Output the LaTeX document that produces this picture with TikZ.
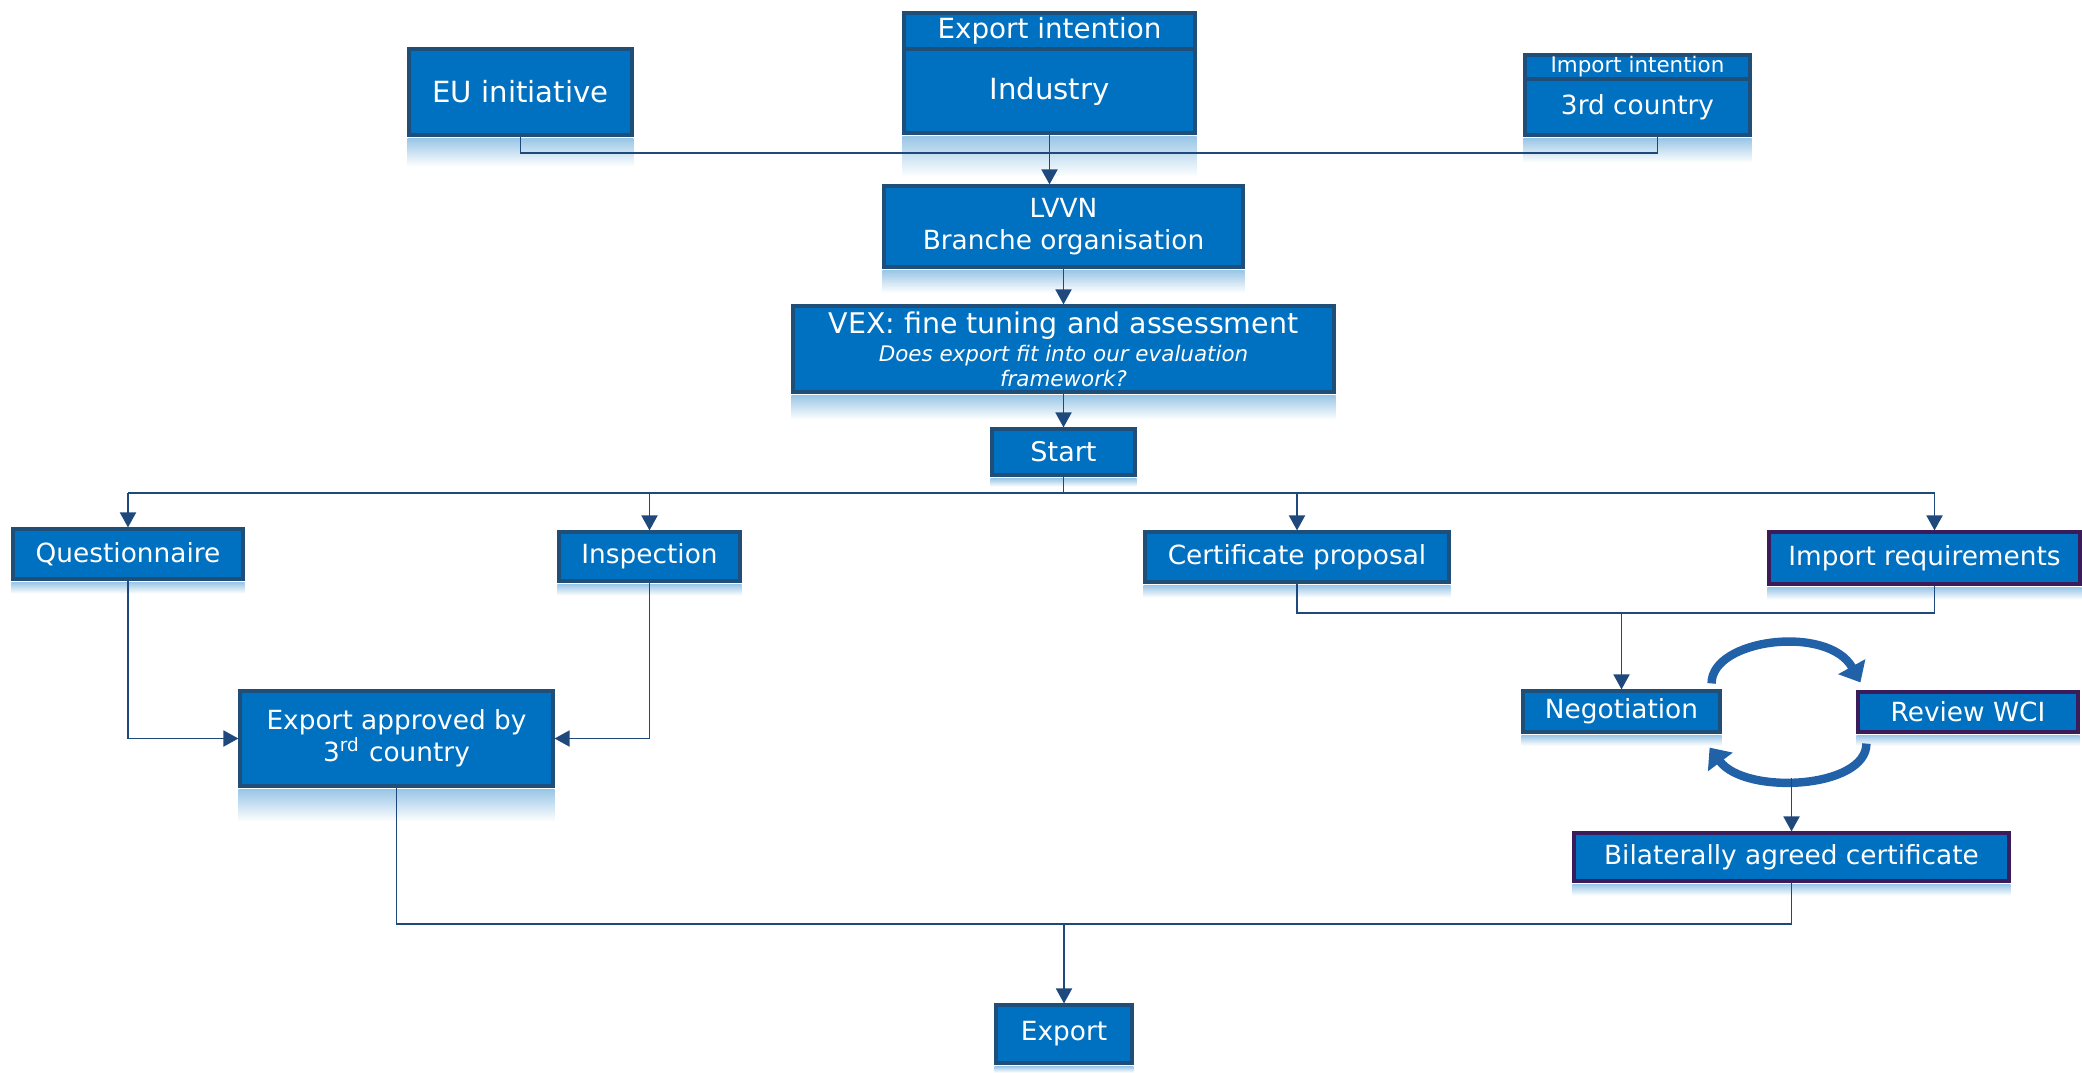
\documentclass[tikz,border=0pt]{standalone}
\usepackage{fontspec}
\setmainfont{DejaVu Sans}
\usetikzlibrary{arrows.meta,calc}
\definecolor{boxblue}{HTML}{0070C0}
\definecolor{boxline}{HTML}{1F4E79}
\definecolor{boxpurple}{HTML}{3B1C5A}
\definecolor{connblue}{HTML}{1F497D}
\definecolor{arcblue}{HTML}{2161A8}
\begin{document}
\begin{tikzpicture}[x=0.1mm,y=-0.1mm,>={Triangle[length=1.5mm,width=1.6mm]},
    box/.style={draw=boxline,line width=0.9pt,fill=boxblue,text=white,inner sep=0pt,
        align=center,font=\fontsize{7.5}{9.1}\selectfont},
    pbox/.style={box,draw=boxpurple},
    conn/.style={connblue,line width=0.55pt},
    loop/.style={arcblue,line width=2.4pt,-{Triangle[length=1.8mm,width=3mm]}}]
    \useasboundingbox (0,0) rectangle (2082,1072);
    % boxes
    \node[box,minimum width=22.3mm,minimum height=8.6mm,font=\fontsize{8.3}{10}\selectfont]
        (eu) at (520.5,92) {EU initiative};
    \node[box,minimum width=29.1mm,minimum height=3.6mm,font=\fontsize{7.9}{9}\selectfont]
        (exphead) at (1049.5,31) {Export intention};
    \node[box,minimum width=29.1mm,minimum height=8.4mm,font=\fontsize{8.3}{10}\selectfont]
        (ind) at (1049.5,91) {Industry};
    \node[box,minimum width=22.5mm,minimum height=2.4mm,font=\fontsize{6.1}{7}\selectfont]
        (imphead) at (1637.5,67) {Import intention};
    \node[box,minimum width=22.5mm,minimum height=5.6mm] (third) at (1637.5,107) {3rd country};
    \node[box,minimum width=35.9mm,minimum height=8.1mm] (lvvn) at (1063.5,226.5)
        {LVVN\\Branche organisation};
    \node[box,minimum width=54.1mm,minimum height=8.6mm,font=\fontsize{6.1}{6.9}\selectfont]
        (vex) at (1063.5,349) {{\fontsize{8.1}{9}\selectfont VEX: fine tuning and assessment}\\[1.2pt]
        \itshape Does export fit into our evaluation\\\itshape framework?};
    \node[box,minimum width=14.3mm,minimum height=4.6mm,font=\fontsize{7.7}{9}\selectfont]
        (start) at (1063.5,452) {Start};
    \node[box,minimum width=23mm,minimum height=5mm] (ques) at (128,554) {Questionnaire};
    \node[box,minimum width=18.1mm,minimum height=4.9mm] (insp) at (649.5,556.5) {Inspection};
    \node[box,minimum width=30.4mm,minimum height=5mm] (cert) at (1297,557) {Certificate proposal};
    \node[pbox,minimum width=31.1mm,minimum height=5.2mm] (impreq) at (1924.5,558) {Import requirements};
    \node[box,minimum width=31.3mm,minimum height=9.5mm] (appr) at (396.5,738.5)
        {Export approved by\\3\textsuperscript{rd} country};
    \node[box,minimum width=19.7mm,minimum height=4.1mm] (nego) at (1621.5,711.5) {Negotiation};
    \node[pbox,minimum width=22mm,minimum height=4mm] (wci) at (1968,712) {Review WCI};
    \node[pbox,minimum width=43.5mm,minimum height=4.8mm] (bil) at (1791.5,857)
        {Bilaterally agreed certificate};
    \node[box,minimum width=13.6mm,minimum height=5.8mm] (exp) at (1064,1034) {Export};
    % reflections
    \foreach \n/\h in {eu/30,ind/42,third/26,lvvn/24,vex/26,start/10,ques/13,insp/13,cert/14,
        impreq/14,appr/34,nego/12,wci/12,bil/13,exp/8}
    \shade[top color=boxblue!40,bottom color=white] ([yshift=-0.45pt]\n.south west)
        rectangle ($(\n.south east)+(0,\h)$);
    % connectors
    \draw[conn] (eu.south) -- ++(0,16) -| ([xshift=2mm]third.south);
    \draw[conn,->] (ind.south) -- (ind.south |- lvvn.north);
    \draw[conn,->] (lvvn.south) -- (vex.north);
    \draw[conn,->] (vex.south) -- (start.north);
    \path (start.south) ++(0,16) coordinate (bus);
    \draw[conn] (start.south) -- (bus);
    \coordinate (impin) at ([xshift=1mm]impreq.north);
    \coordinate (impout) at ([xshift=1mm]impreq.south);
    \draw[conn] (bus -| ques.north) -- (bus -| impin);
    \foreach \n in {ques.north,insp.north,cert.north,impin}
    \draw[conn,->] (bus -| \n) -- (\n);
    \draw[conn,->] (ques.south) |- (appr.west);
    \draw[conn,->] (insp.south) |- (appr.east);
    \draw[conn] (cert.south) -- ++(0,29) coordinate (certbus) -| (impout);
    \draw[conn,->] (certbus -| nego.north) -- (nego.north);
    \draw[loop] ([shift={(-10,-6)}]nego.north east) .. controls +(0,-45) and +(-32,-58) ..
        ([shift={(4,-8)}]wci.north west);
    \draw[loop] ([shift={(10,10)}]wci.south west) .. controls +(0,45) and +(36,48) ..
        ([shift={(-12,14)}]nego.south east);
    \path (bil.north) ++(0,-53) coordinate (loopbot);
    \draw[conn,->] (loopbot) -- (bil.north);
    \draw[conn] (appr.south) -- ++(0,136) coordinate (expbus) -| (bil.south);
    \draw[conn,->] (expbus -| exp.north) -- (exp.north);
\end{tikzpicture}
\end{document}
